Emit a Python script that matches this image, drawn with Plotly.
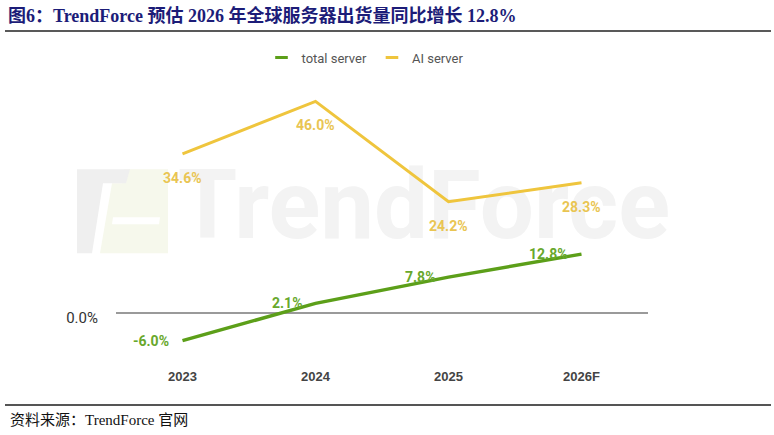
import plotly.graph_objects as go

years = ["2023", "2024", "2025", "2026F"]
total_server = [-6.0, 2.1, 7.8, 12.8]
ai_server = [34.6, 46.0, 24.2, 28.3]
total_labels = ["-6.0%", "2.1%", "7.8%", "12.8%"]
ai_labels = ["34.6%", "46.0%", "24.2%", "28.3%"]

W, H = 774, 435
L, R, T, B = 116, 126, 82.5, 76
PW, PH = W - L - R, H - T - B
YMIN, YMAX = -10, 50

def px(xp):  # pixel -> paper x
    return (xp - L) / PW

def py(yp):  # pixel -> paper y
    return (H - B - yp) / PH

def dx(xp):  # pixel -> data x
    return (xp - L) / PW * len(years) - 0.5

def dy(yp):
    return YMIN + (H - B - yp) / PH * (YMAX - YMIN)

GREEN = "#5c9f19"
GREEN_T = "rgb(104,168,44)"
YELLOW = "#efc53d"
YELLOW_T = "rgb(233,197,82)"

xs = list(range(len(years)))
fig = go.Figure()

# watermark text (decoration, drawn first so it lies beneath the lines)
fig.add_trace(go.Scatter(
    x=[dx(424)], y=[dy(214)], mode="text", text=["TrendForce"],
    textfont=dict(family="Roboto", size=96, color="rgb(243,243,243)", weight="bold"),
    showlegend=False, hoverinfo="skip", textposition="middle center", cliponaxis=False))

fig.add_trace(go.Scatter(x=xs, y=ai_server, mode="lines",
                         line=dict(color=YELLOW, width=3), showlegend=False))
fig.add_trace(go.Scatter(x=xs, y=total_server, mode="lines",
                         line=dict(color=GREEN, width=3.5), showlegend=False))

# legend-only entries
for name, col in [("total server", GREEN), ("AI server", YELLOW)]:
    fig.add_trace(go.Scatter(x=[None], y=[None], mode="markers", name=name,
                             marker=dict(symbol="line-ew", size=9,
                                         line=dict(color=col, width=3))))

ann = []
for i, (v, t) in enumerate(zip(ai_server, ai_labels)):
    ann.append(dict(x=xs[i], y=v, text=t, showarrow=False, yshift=-24,
                    xanchor="center", yanchor="middle",
                    font=dict(family="Roboto", size=14, color=YELLOW_T, weight="bold")))
for i, (v, t) in enumerate(zip(total_server, total_labels)):
    ann.append(dict(x=xs[i], y=v, text=t, showarrow=False, xshift=-12, yshift=0,
                    xanchor="right", yanchor="middle",
                    font=dict(family="Roboto", size=14, color=GREEN_T, weight="bold")))

ann.append(dict(xref="paper", yref="paper", x=px(8), y=py(420), xanchor="left",
                yanchor="middle", showarrow=False,
                text="资料来源：TrendForce 官网",
                font=dict(family="Liberation Serif, Noto Sans CJK SC", size=15, color="#111")))

shapes = [
    dict(type="line", xref="paper", yref="paper", x0=px(5), x1=px(771), y0=py(30.5), y1=py(30.5),
         line=dict(color="#222", width=1.5)),
    dict(type="line", xref="paper", yref="paper", x0=px(5), x1=px(771), y0=py(405), y1=py(405),
         line=dict(color="#555", width=2)),
]

# faint logo (decoration, in paper coordinates so it is not clipped)
def path(pts):
    return "M " + " L ".join(f"{px(a)},{py(b)}" for a, b in pts) + " Z"

shapes.append(dict(type="path", xref="paper", yref="paper", layer="below", line=dict(width=0),
                   fillcolor="rgb(246,248,236)",
                   path=path([(124, 169), (168, 169), (168, 253), (100, 253), (112, 183), (122, 183)])))
shapes.append(dict(type="path", xref="paper", yref="paper", layer="below", line=dict(width=0),
                   fillcolor="white",
                   path=path([(113, 217), (160, 217), (159, 224), (112, 224)])))
shapes.append(dict(type="path", xref="paper", yref="paper", layer="below", line=dict(width=0),
                   fillcolor="rgb(239,239,239)",
                   path=path([(77, 169), (130, 169), (126, 183), (103, 183), (92, 253), (77, 253)])))

fig.update_layout(
    width=W, height=H,
    margin=dict(l=L, r=R, t=T, b=B),
    paper_bgcolor="white", plot_bgcolor="white",
    title=dict(text="<b>图6：TrendForce 预估 2026 年全球服务器出货量同比增长 12.8%</b>",
               x=8 / W, xanchor="left", y=1 - 16 / H, yanchor="middle",
               font=dict(family="Liberation Serif, Noto Sans CJK SC", size=18, color="#1c1c78")),
    xaxis=dict(range=[-0.5, len(years) - 0.5], tickvals=xs, ticktext=years,
               showgrid=False, zeroline=False, showline=False, ticks="",
               ticklabelstandoff=8,
               tickfont=dict(family="Liberation Sans", size=13, color="#444", weight="bold")),
    yaxis=dict(range=[YMIN, YMAX], tickvals=[0], ticktext=["0.0%"], showgrid=False,
               zeroline=True, zerolinecolor="#9a9a9a", zerolinewidth=1.5,
               showline=False, ticks="", ticklabelstandoff=17, ticklabelshift=5,
               tickfont=dict(family="Roboto", size=15, color="#333")),
    legend=dict(orientation="h", x=px(365), xanchor="center", y=py(57), yanchor="middle",
                font=dict(family="Roboto", size=13, color="#555"), itemwidth=30,
                bgcolor="rgba(0,0,0,0)"),
    annotations=ann, shapes=shapes,
)

fig.write_html("out.html")
